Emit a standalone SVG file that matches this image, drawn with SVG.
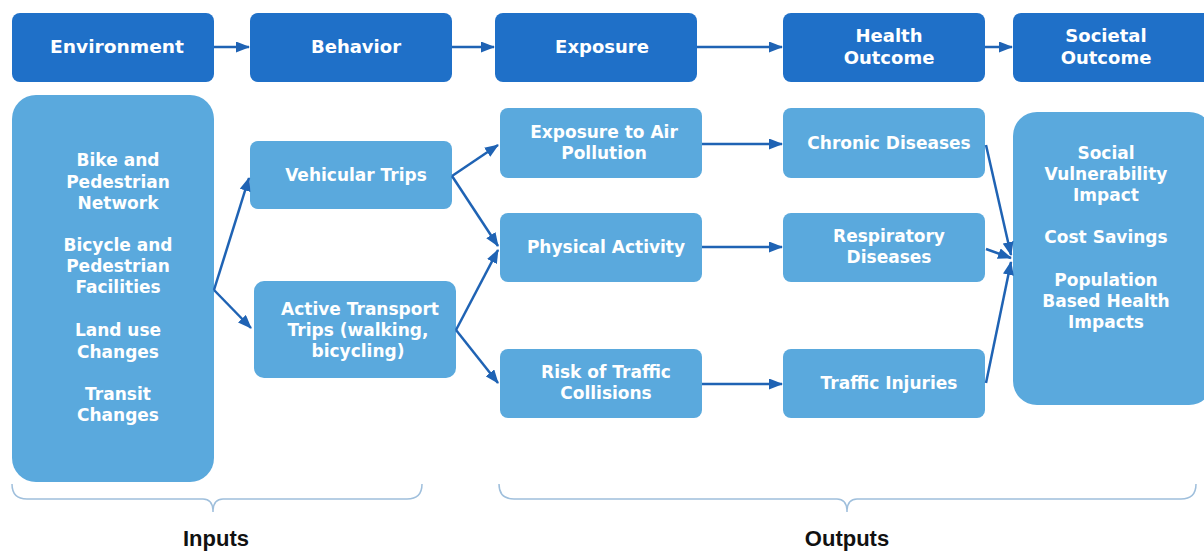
<svg xmlns="http://www.w3.org/2000/svg" width="1204" height="553" viewBox="0 0 1204 553">
<defs>
<marker id="ah" markerWidth="14" markerHeight="11" refX="13" refY="5.5" orient="auto" markerUnits="userSpaceOnUse">
<path d="M0,0 L14,5.5 L0,11 Z" fill="#1f63b4"/>
</marker>
<style>
.top{fill:#1f70c8}
.box{fill:#5aa9dd}
.t{font-family:"DejaVu Sans",Verdana,sans-serif;font-weight:bold;font-size:17px;fill:#fff;text-anchor:middle}
.tt{font-size:18px}
.c{stroke:#1f63b4;stroke-width:2.5;fill:none;marker-end:url(#ah)}
.br{stroke:#9fbfdc;stroke-width:1.5;fill:none}
.lab{font-family:"Liberation Sans",Arial,sans-serif;font-weight:bold;font-size:22px;fill:#111;text-anchor:middle}
</style>
</defs>
<rect width="1204" height="553" fill="#fff"/>
<g id="environment"><rect class="top" x="12" y="13" width="202" height="69" rx="8"/><text class="t tt" x="117" y="53" textLength="134" lengthAdjust="spacingAndGlyphs">Environment</text></g>
<g id="behavior"><rect class="top" x="250" y="13" width="202" height="69" rx="8"/><text class="t tt" x="356" y="53">Behavior</text></g>
<g id="exposure"><rect class="top" x="495" y="13" width="202" height="69" rx="8"/><text class="t tt" x="602" y="53">Exposure</text></g>
<g id="health-outcome"><rect class="top" x="783" y="13" width="202" height="69" rx="8"/><text class="t tt" x="889" y="42">Health</text><text class="t tt" x="889" y="64">Outcome</text></g>
<g id="societal-outcome"><rect class="top" x="1013" y="13" width="200" height="69" rx="8"/><text class="t tt" x="1106" y="42">Societal</text><text class="t tt" x="1106" y="64">Outcome</text></g>

<g id="inputs-box"><rect class="box" x="12" y="95" width="202" height="387" rx="24"/>
<text class="t" x="118" y="166">Bike and</text><text class="t" x="118" y="188">Pedestrian</text><text class="t" x="118" y="209">Network</text>
<text class="t" x="118" y="251">Bicycle and</text><text class="t" x="118" y="272">Pedestrian</text><text class="t" x="118" y="293">Facilities</text>
<text class="t" x="118" y="336">Land use</text><text class="t" x="118" y="358">Changes</text>
<text class="t" x="118" y="400">Transit</text><text class="t" x="118" y="421">Changes</text></g>
<g id="vehicular-trips"><rect class="box" x="250" y="141" width="202" height="68" rx="8"/><text class="t" x="356" y="181">Vehicular Trips</text></g>
<g id="active-transport"><rect class="box" x="254" y="281" width="202" height="97" rx="10"/><text class="t" x="360" y="315">Active Transport</text><text class="t" x="358" y="336">Trips (walking,</text><text class="t" x="358" y="357">bicycling)</text></g>
<g id="air-pollution"><rect class="box" x="500" y="108" width="202" height="70" rx="8"/><text class="t" x="604" y="138">Exposure to Air</text><text class="t" x="604" y="159">Pollution</text></g>
<g id="physical-activity"><rect class="box" x="500" y="213" width="202" height="69" rx="8"/><text class="t" x="606" y="253">Physical Activity</text></g>
<g id="traffic-collisions"><rect class="box" x="500" y="349" width="202" height="69" rx="8"/><text class="t" x="606" y="378">Risk of Traffic</text><text class="t" x="606" y="399">Collisions</text></g>
<g id="chronic-diseases"><rect class="box" x="783" y="108" width="202" height="70" rx="8"/><text class="t" x="889" y="149">Chronic Diseases</text></g>
<g id="respiratory-diseases"><rect class="box" x="783" y="213" width="202" height="69" rx="8"/><text class="t" x="889" y="242">Respiratory</text><text class="t" x="889" y="263">Diseases</text></g>
<g id="traffic-injuries"><rect class="box" x="783" y="349" width="202" height="69" rx="8"/><text class="t" x="889" y="389">Traffic Injuries</text></g>
<g id="societal-box"><rect class="box" x="1013" y="112" width="200" height="293" rx="24"/>
<text class="t" x="1106" y="159">Social</text><text class="t" x="1106" y="180">Vulnerability</text><text class="t" x="1106" y="201">Impact</text>
<text class="t" x="1106" y="243">Cost Savings</text>
<text class="t" x="1106" y="286">Population</text><text class="t" x="1106" y="307">Based Health</text><text class="t" x="1106" y="328">Impacts</text></g>

<g id="connectors">
<line class="c" x1="214" y1="47" x2="249" y2="47"/>
<line class="c" x1="452" y1="47" x2="494" y2="47"/>
<line class="c" x1="697" y1="47" x2="782" y2="47"/>
<line class="c" x1="985" y1="47" x2="1012" y2="47"/>
<line class="c" x1="214" y1="290" x2="249" y2="178"/>
<line class="c" x1="214" y1="290" x2="251" y2="328"/>
<line class="c" x1="452" y1="176" x2="498" y2="145"/>
<line class="c" x1="452" y1="176" x2="498" y2="246"/>
<line class="c" x1="456" y1="330" x2="498" y2="250"/>
<line class="c" x1="456" y1="330" x2="498" y2="383"/>
<line class="c" x1="702" y1="144" x2="782" y2="144"/>
<line class="c" x1="702" y1="247" x2="782" y2="247"/>
<line class="c" x1="702" y1="384" x2="782" y2="384"/>
<line class="c" x1="986" y1="145" x2="1011" y2="255"/>
<line class="c" x1="986" y1="249" x2="1011" y2="258"/>
<line class="c" x1="986" y1="383" x2="1011" y2="262"/>
</g>
<g id="braces">
<path class="br" d="M12,484 Q12,499 27,499 L203,499 Q213,499 213,512 Q213,499 223,499 L407,499 Q422,499 422,484"/>
<path class="br" d="M499,484 Q499,499 514,499 L837,499 Q847,499 847,512 Q847,499 857,499 L1181,499 Q1196,499 1196,484"/>
</g>
<text class="lab" x="216" y="546">Inputs</text>
<text class="lab" x="847" y="546">Outputs</text>
</svg>
